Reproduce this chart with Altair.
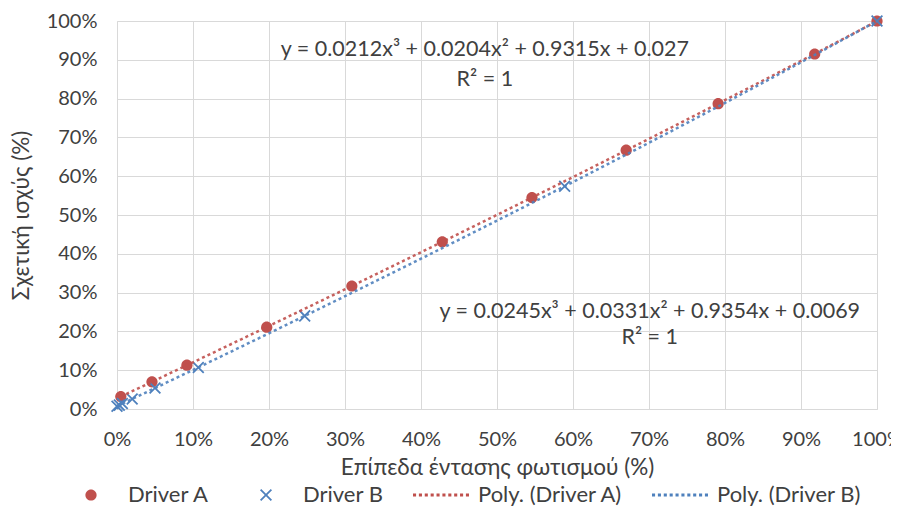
import altair as alt
import pandas as pd

# ---- data (percent values) ----
a_x = [0.5, 4.6, 9.2, 19.7, 30.9, 42.8, 54.6, 67.0, 79.1, 91.8, 100.0]
a_y = [3.2, 7.0, 11.3, 21.1, 31.7, 43.1, 54.5, 66.7, 78.7, 91.5, 100.0]
b_x = [0.0, 0.3, 0.7, 2.0, 5.0, 10.7, 24.7, 58.9, 100.0]
b_y = [0.7, 1.0, 1.4, 2.6, 5.4, 10.7, 24.0, 57.4, 100.0]

series_names = ["Driver A", "Driver B", "Poly. (Driver A)", "Poly. (Driver B)"]
series_colors = ["#C0504D", "#4F81BD", "#C0504D", "#4F81BD"]

ann_text = ["y = 0.0212x³ + 0.0204x² + 0.9315x + 0.027", "R² = 1",
            "y = 0.0245x³ + 0.0331x² + 0.9354x + 0.0069", "R² = 1"]
ann_x = [48.4, 48.4, 70.1, 70.1]
ann_y = [92.5, 84.8, 25.0, 18.3]

tick_vals = [i / 10 for i in range(11)]

FONT = "Lato"
TXT = "#404040"

# ---- symbol shapes (all drawn at one symbol size: 1 unit = 28 px) ----
def dotted_path(n=10, dot=0.11):
    period = (2 - dot) / (n - 1)
    parts = []
    for i in range(n):
        x0 = -1 + i * period
        parts.append(f"M{x0:.3f},{-dot/2:.3f}h{dot:.3f}v{dot:.3f}h{-dot:.3f}Z")
    return "".join(parts)

def circle_path(r=0.2):
    return f"M{r},0A{r},{r} 0 1,1 {-r},0A{r},{r} 0 1,1 {r},0Z"

def x_path(h=0.215, t=0.045):
    pts = [(-h, -h + t), (-h + t, -h), (0, -t), (h - t, -h), (h, -h + t), (t, 0),
           (h, h - t), (h - t, h), (0, t), (-h + t, h), (-h, h - t), (-t, 0)]
    return "M" + "L".join(f"{px:.3f},{py:.3f}" for px, py in pts) + "Z"

shapes = [circle_path(), x_path(), dotted_path(), dotted_path()]
SYM = 3136

df_a = pd.DataFrame({"x": [v / 100 for v in a_x], "y": [v / 100 for v in a_y],
                     "series": "Driver A"})
df_b = pd.DataFrame({"x": [v / 100 for v in b_x], "y": [v / 100 for v in b_y],
                     "series": "Driver B"})
df_pts = pd.concat([df_a, df_b], ignore_index=True)
df_ann = pd.DataFrame({"x": [v / 100 for v in ann_x], "y": [v / 100 for v in ann_y],
                       "text": ann_text})

xscale = alt.Scale(domain=[0, 1], nice=False)
yscale = alt.Scale(domain=[0, 1], nice=False)

xaxis = alt.Axis(values=tick_vals, format=".0%", title="Επίπεδα έντασης φωτισμού (%)",
                 labelPadding=20, titleY=58, titleBaseline="middle", labelFlush=False,
                 labelOverlap=False)
yaxis = alt.Axis(values=tick_vals, format=".0%", title="Σχετική ισχύς (%)",
                 labelPadding=20, titleX=-96, titleBaseline="middle", labelFlush=False,
                 labelOverlap=False)

X = alt.X("x:Q", scale=xscale, axis=xaxis)
Y = alt.Y("y:Q", scale=yscale, axis=yaxis)

legend = alt.Legend(orient="none", legendX=-54, legendY=446, direction="horizontal",
                    columns=4, title=None, labelFont=FONT, labelFontSize=22,
                    labelColor=TXT, labelOffset=9, columnPadding=29, padding=0,
                    symbolStrokeWidth=0, symbolSize=SYM)

points = alt.Chart(df_pts).mark_point(filled=True, opacity=1, size=SYM).encode(
    x=X, y=Y,
    color=alt.Color("series:N", scale=alt.Scale(domain=series_names, range=series_colors),
                    legend=legend),
    shape=alt.Shape("series:N", scale=alt.Scale(domain=series_names, range=shapes),
                    legend=legend),
)

line_a = alt.Chart(df_a).transform_regression("x", "y", method="poly", order=3).mark_line(
    color="#C0504D", strokeDash=[3, 3], strokeWidth=2.5, opacity=0.9
).encode(x=X, y=Y)
line_b = alt.Chart(df_b).transform_regression("x", "y", method="poly", order=3).mark_line(
    color="#4F81BD", strokeDash=[3, 3], strokeWidth=2.5, opacity=0.9
).encode(x=X, y=Y)

ann = alt.Chart(df_ann).mark_text(font=FONT, fontSize=21.5, color=TXT, align="center",
                                  baseline="middle").encode(
    x=X, y=Y, text="text:N")

chart = alt.layer(points, line_a, line_b, ann).properties(
    width=760, height=388,
    autosize=alt.AutoSizeParams(type="none"),
    padding={"left": 109, "top": 13, "right": 14, "bottom": 101},
).configure_view(stroke=None).configure_axis(
    grid=True, gridColor="#D9D9D9", gridWidth=1, domainColor="#D9D9D9",
    ticks=False, labelFont=FONT, labelFontSize=20, labelColor=TXT,
    titleFont=FONT, titleFontSize=22.5, titleColor=TXT, titleFontWeight="normal",
)

chart.save("out.html", embed_options={"renderer": "svg", "actions": False})
